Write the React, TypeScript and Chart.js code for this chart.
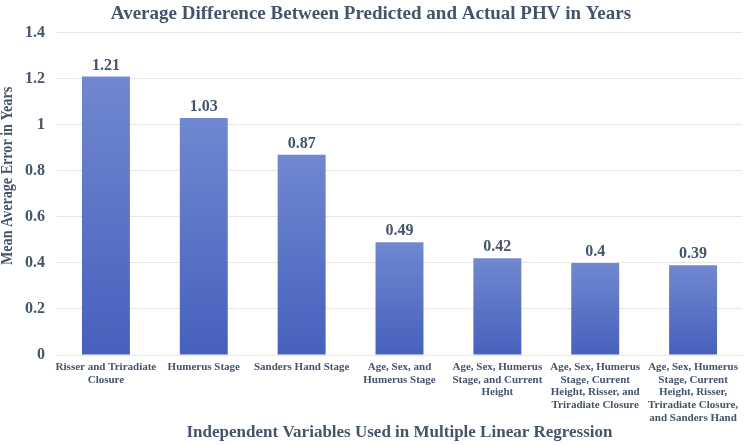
import React, { useEffect, useRef } from "react";
import { Chart, registerables } from "chart.js";

Chart.register(...registerables);

const categories: string[][] = [
  ["Risser and Triradiate", "Closure"],
  ["Humerus Stage"],
  ["Sanders Hand Stage"],
  ["Age, Sex, and", "Humerus Stage"],
  ["Age, Sex, Humerus", "Stage, and Current", "Height"],
  ["Age, Sex, Humerus", "Stage, Current", "Height, Risser, and", "Triradiate Closure"],
  ["Age, Sex, Humerus", "Stage, Current", "Height, Risser,", "Triradiate Closure,", "and Sanders Hand"],
];
const values: number[] = [1.21, 1.03, 0.87, 0.49, 0.42, 0.4, 0.39];
const valueLabels: string[] = ["1.21", "1.03", "0.87", "0.49", "0.42", "0.4", "0.39"];
const yAxisTitle = "Mean Average Error in Years";

const TEXT = "#44546a";
const FONT = "'Liberation Serif', 'Times New Roman', serif";

const labelPlugin = {
  id: "valueLabels",
  afterDatasetsDraw(chart: any) {
    const ctx = chart.ctx;
    const meta = chart.getDatasetMeta(0);
    ctx.save();
    ctx.font = `bold 16px ${FONT}`;
    ctx.fillStyle = TEXT;
    ctx.textAlign = "center";
    ctx.textBaseline = "bottom";
    meta.data.forEach((bar: any, i: number) => {
      ctx.fillText(valueLabels[i], bar.x, bar.y - 3);
    });
    ctx.restore();
  },
};

const yTitlePlugin = {
  id: "yTitle",
  afterDraw(chart: any) {
    const ctx = chart.ctx;
    const area = chart.chartArea;
    ctx.save();
    ctx.translate(8, (area.top + area.bottom) / 2 - 18);
    ctx.rotate(-Math.PI / 2);
    ctx.scale(0.83, 1);
    ctx.font = `bold 17px ${FONT}`;
    ctx.fillStyle = TEXT;
    ctx.textAlign = "center";
    ctx.textBaseline = "middle";
    ctx.fillText(yAxisTitle, 0, 0);
    ctx.restore();
  },
};

export default function App() {
  const ref = useRef<HTMLCanvasElement>(null);
  useEffect(() => {
    document.body.style.margin = "0";
    const chart = new Chart(ref.current!, {
      type: "bar",
      data: {
        labels: categories,
        datasets: [
          {
            data: values,
            backgroundColor: (c: any) => {
              const ch = c.chart;
              const y = ch.scales?.y;
              if (!y || !ch.chartArea) return "#5a73c6";
              const top = y.getPixelForValue(values[c.dataIndex] ?? 0);
              const bottom = y.getPixelForValue(0);
              const g = ch.ctx.createLinearGradient(0, top, 0, bottom);
              g.addColorStop(0, "#7088d0");
              g.addColorStop(1, "#4760bc");
              return g;
            },
            borderWidth: 0,
            categoryPercentage: 0.98,
            barPercentage: 0.5,
          },
        ],
      },
      options: {
        responsive: false,
        animation: false,
        layout: { padding: { top: 0, right: 4, bottom: 2, left: 0 } },
        plugins: {
          legend: { display: false },
          tooltip: { enabled: false },
          title: {
            display: true,
            text: "Average Difference Between Predicted and Actual PHV in Years",
            color: TEXT,
            font: { family: FONT, size: 19, weight: "bold" },
            padding: { top: 3, bottom: 7 },
          },
        },
        scales: {
          y: {
            min: 0,
            max: 1.4,
            ticks: {
              stepSize: 0.2,
              color: TEXT,
              font: { family: FONT, size: 16, weight: "bold" },
              padding: 12,
              callback: (v: any) => String(Math.round(Number(v) * 10) / 10),
            },
            grid: { color: "#e6e6e6", drawTicks: false },
            border: { display: false },
            afterFit: (s: any) => {
              s.width = 57;
            },
          },
          x: {
            ticks: {
              color: TEXT,
              font: { family: FONT, size: 11, weight: "bold", lineHeight: 1.15 },
              maxRotation: 0,
              autoSkip: false,
              padding: 6,
            },
            grid: { display: false, drawTicks: false },
            border: { display: true, color: "#e6e6e6" },
            title: {
              display: true,
              text: "Independent Variables Used in Multiple Linear Regression",
              color: TEXT,
              font: { family: FONT, size: 17, weight: "bold" },
              padding: { top: 0, bottom: 0 },
            },
            afterFit: (s: any) => {
              s.height = 88;
            },
          },
        },
      },
      plugins: [labelPlugin, yTitlePlugin],
    });
    return () => chart.destroy();
  }, []);
  return <canvas ref={ref} width={746} height={445} style={{ display: "block" }} />;
}
